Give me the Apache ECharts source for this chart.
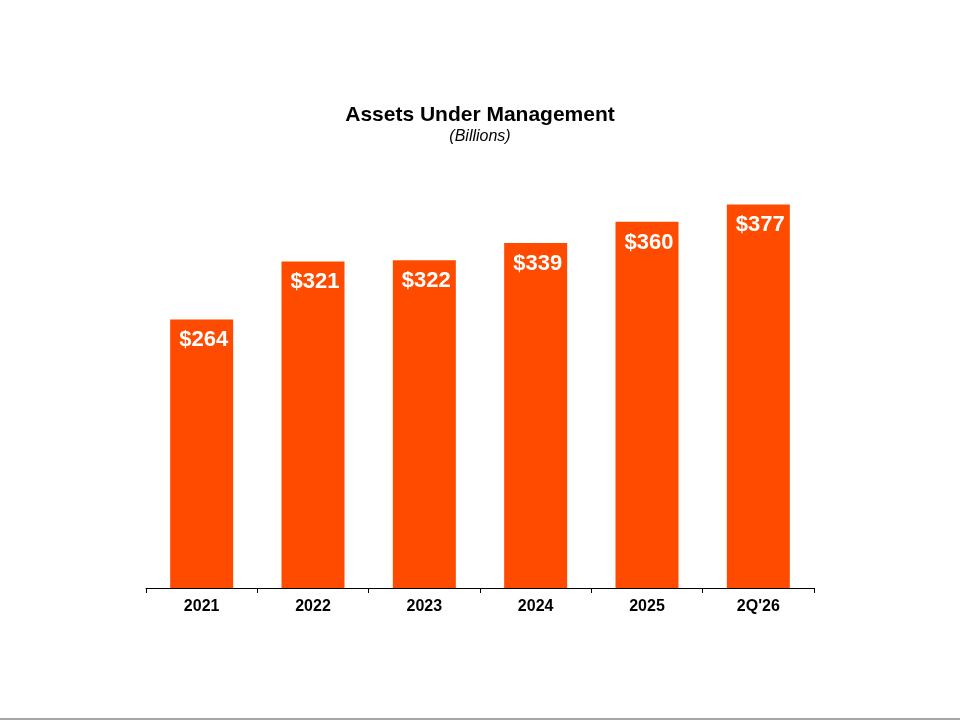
<!DOCTYPE html>
<html>
<head>
<meta charset="utf-8">
<script src="https://cdn.jsdelivr.net/npm/echarts@6/dist/echarts.min.js"></script>
<style>
  html, body { margin: 0; padding: 0; background: #fff; }
  #chart { width: 960px; height: 720px; }
</style>
</head>
<body>
<div id="chart"></div>
<script>
const categories = ['2021', '2022', '2023', '2024', '2025', "2Q'26"];
const aum = [264, 321, 322, 339, 360, 377];

const chart = echarts.init(document.getElementById('chart'), null, { renderer: 'canvas' });

const option = {
  animation: false,
  backgroundColor: '#fff',
  title: {
    text: 'Assets Under Management',
    subtext: '(Billions)',
    left: 'center',
    top: 100,
    itemGap: 3,
    textStyle: {
      fontFamily: 'Liberation Sans, Arial, sans-serif',
      fontWeight: 'bold',
      fontSize: 21,
      color: '#000'
    },
    subtextStyle: {
      fontFamily: 'Liberation Sans, Arial, sans-serif',
      fontStyle: 'italic',
      fontSize: 16,
      color: '#000'
    }
  },
  grid: {
    left: 146,
    right: 146,
    top: 181,
    bottom: 132
  },
  xAxis: {
    type: 'category',
    data: categories,
    axisLine: { lineStyle: { color: '#000', width: 1 } },
    axisTick: { show: true, length: 5, lineStyle: { color: '#000' } },
    axisLabel: {
      color: '#000',
      fontFamily: 'Liberation Sans, Arial, sans-serif',
      fontWeight: 'bold',
      fontSize: 16,
      margin: 11
    }
  },
  yAxis: {
    type: 'value',
    min: 0,
    max: 400,
    show: false,
    splitLine: { show: false }
  },
  series: [{
    type: 'bar',
    data: aum,
    barWidth: 63,
    itemStyle: { color: '#FF4B00' },
    label: {
      show: true,
      position: 'insideTop',
      distance: 8,
      offset: [2, 2],
      formatter: p => '$' + p.value,
      color: '#fff',
      fontFamily: 'Liberation Sans, Arial, sans-serif',
      fontWeight: 'bold',
      fontSize: 22
    }
  }],
  graphic: [{
    type: 'rect',
    shape: { x: 0, y: 718, width: 960, height: 2 },
    style: { fill: '#a6a6a6' }
  }]
};

chart.setOption(option);
</script>
</body>
</html>
